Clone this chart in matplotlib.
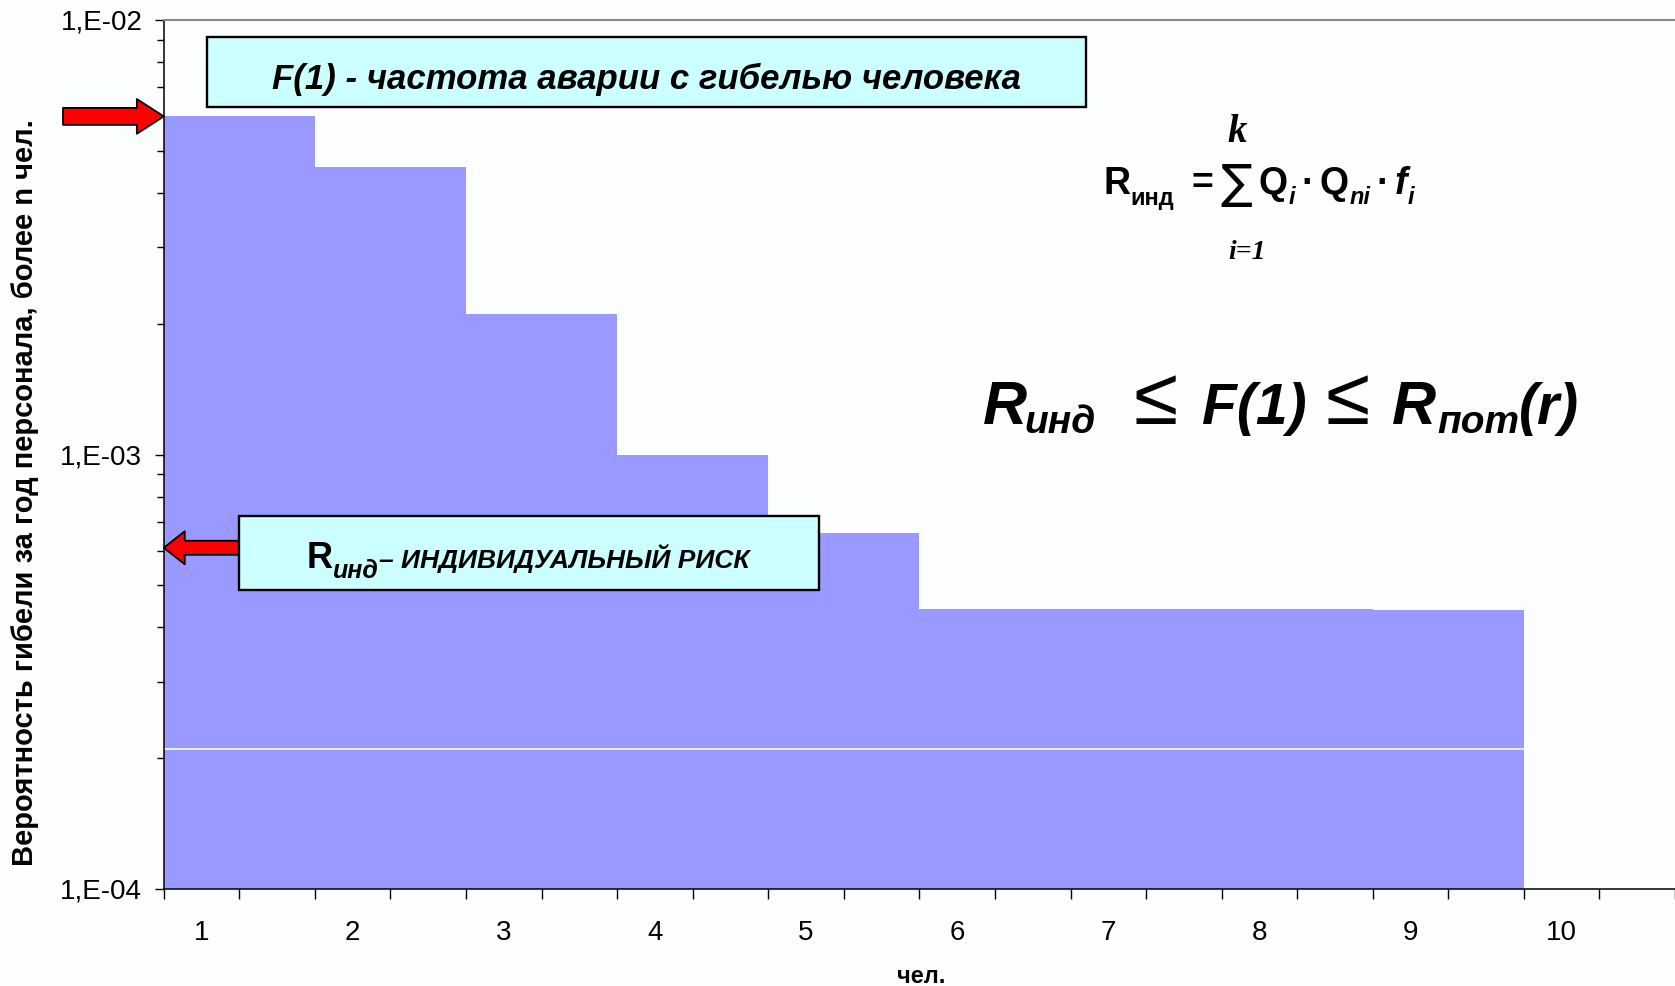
"""
Ступенчатая диаграмма F(N): вероятность гибели персонала за год (более n чел.)
с пояснениями к индивидуальному риску. Сохраняет out.png.
"""

import matplotlib

matplotlib.use("Agg")
import matplotlib.patches as mpatches
import matplotlib.pyplot as plt
import numpy as np
from matplotlib.transforms import Affine2D

# --- Данные ---
categories = ["1", "2", "3", "4", "5", "6", "7", "8", "9", "10"]
f_values = [6.0e-3, 4.6e-3, 2.1e-3, 1.0e-3, 6.6e-4, 4.42e-4, 4.42e-4, 4.42e-4, 4.38e-4]
lower_values = [2.1e-4, 2.1e-4, 2.1e-4, 2.1e-4, 2.1e-4, 2.1e-4, 2.1e-4, 2.1e-4, 2.1e-4]
r_ind = 6.1e-4
y_ticks = [1e-4, 1e-3, 1e-2]
y_tick_labels = ["1,E-04", "1,E-03", "1,E-02"]

W, H = 1675, 986
BAR_COLOR = "#9999FF"
BOX_COLOR = "#CCFFFF"
BG = "#fcfefe"

plt.rcParams["font.family"] = ["Liberation Sans", "DejaVu Sans"]


def draw_runs(fig, renderer, PX, x, y, items):
    """Текст кусками слева направо: (текст, свойства, сдвиг вниз, зазор перед)."""
    for s, kw, dy, gap in items:
        x += gap
        t = fig.text(x, y + dy, s, transform=PX, ha="left", va="baseline", **kw)
        x = t.get_window_extent(renderer).x1
    return x


def main():
    fig = plt.figure(figsize=(W / 100, H / 100), dpi=100, facecolor=BG)
    ax = fig.add_axes([163.8 / W, (H - 889) / H, 1 - 163.8 / W, (889 - 20) / H])
    ax.set_facecolor(BG)
    renderer = fig.canvas.get_renderer()

    # пиксели референса, начало координат сверху слева
    PX = Affine2D().scale(1 / W, -1 / H).translate(0, 1) + fig.transFigure

    # ступеньки F(N)
    edges = np.arange(len(f_values) + 1)
    ax.fill_between(edges, f_values + [f_values[-1]], 1e-5, step="post",
                    color=BAR_COLOR, linewidth=0)
    ax.step(edges, lower_values + [lower_values[-1]], where="post", color="white", lw=1.2)

    ax.set_yscale("log")
    ax.set_ylim(1e-4, 1e-2)
    ax.set_xlim(0, len(categories))
    ax.set_yticks(y_ticks)
    ax.set_yticklabels(y_tick_labels, fontsize=20)
    ax.tick_params(axis="y", which="major", length=6.5, width=1, pad=9, direction="out")
    ax.tick_params(axis="y", which="minor", length=5, width=1, direction="out")

    ax.set_xticks(np.arange(len(categories)) + 0.25)
    ax.set_xticklabels(categories, fontsize=20)
    ax.set_xticks(np.arange(0, len(categories) + 0.5, 0.5), minor=True)
    ax.tick_params(axis="x", which="major", length=0, pad=22)
    ax.tick_params(axis="x", which="minor", length=7, width=1, direction="out")

    ax.spines["right"].set_visible(False)
    ax.spines["top"].set_color("#888888")
    ax.spines["top"].set_linewidth(1.5)
    ax.spines["left"].set_linewidth(1.1)
    ax.spines["bottom"].set_linewidth(1.1)

    # подписи осей
    fig.text(25, 493, "Вероятность гибели за год персонала, более n чел.", transform=PX,
             rotation=90, ha="center", va="center", fontsize=21, fontweight="bold")
    fig.text(921, 983, "чел.", transform=PX, ha="center", va="baseline",
             fontsize=17, fontweight="bold")

    # стрелки
    ax.annotate("", xy=(0, f_values[0]), xycoords="data",
                xytext=(63, f_values[0]), textcoords=("figure pixels", "data"),
                annotation_clip=False,
                arrowprops=dict(arrowstyle="simple,head_length=19.4,head_width=25,tail_width=12.2",
                                mutation_scale=1, fc="red", ec="black", lw=1.3,
                                shrinkA=0, shrinkB=0))
    ax.annotate("", xy=(0, r_ind), xycoords="data",
                xytext=(250, r_ind), textcoords=("figure pixels", "data"),
                annotation_clip=False,
                arrowprops=dict(arrowstyle="simple,head_length=15.1,head_width=23.8,tail_width=10.1",
                                mutation_scale=1, fc="red", ec="black", lw=1.3,
                                shrinkA=0, shrinkB=0))

    # рамки с текстом
    fig.add_artist(mpatches.Rectangle((207, 37), 879, 70, transform=PX,
                                      fc=BOX_COLOR, ec="black", lw=1.7))
    fig.text(646.5, 89, "F(1) - частота аварии с гибелью человека", transform=PX,
             ha="center", va="baseline", fontsize=25, fontweight="bold", fontstyle="italic")

    fig.add_artist(mpatches.Rectangle((239, 516), 580, 74, transform=PX,
                                      fc=BOX_COLOR, ec="black", lw=1.7))
    bi = dict(fontweight="bold", fontstyle="italic")
    draw_runs(fig, renderer, PX, 306.5, 568, [
        ("R", dict(fontsize=26, fontweight="bold"), 0, 0),
        ("инд", dict(fontsize=18, **bi), 10, 0),
        ("– ИНДИВИДУАЛЬНЫЙ РИСК", dict(fontsize=19, **bi), 0, 1),
    ])

    # формула индивидуального риска
    fig.text(1237, 142, "k", transform=PX, ha="center", fontsize=28, fontweight="bold",
             fontstyle="italic", family="Liberation Serif")
    fig.text(1247, 259, "i=1", transform=PX, ha="center", fontsize=20, fontweight="bold",
             fontstyle="italic", family="Liberation Serif")
    b = dict(fontsize=27, fontweight="bold")
    sb = dict(fontsize=17, **bi)
    draw_runs(fig, renderer, PX, 1103, 194, [
        ("R", b, 0, 0),
        ("инд", dict(fontsize=17, fontweight="bold"), 11, 0),
        ("=", b, 0, 18),
        ("∑", dict(fontsize=34, family="DejaVu Sans"), 4, 7),
        ("Q", b, 0, 6),
        ("i", sb, 10, 1),
        ("·", b, 0, 6),
        ("Q", b, 0, 6),
        ("ni", sb, 10, 1),
        ("·", b, 0, 6),
        ("f", dict(fontsize=27, **bi), 0, 5),
        ("i", sb, 10, 1),
    ])

    # неравенство
    big = dict(transform=PX, fontweight="bold", fontstyle="italic")
    le = dict(transform=PX, fontsize=58, family="Liberation Sans")
    fig.text(983, 424, "R", fontsize=44, **big)
    fig.text(1024, 433, "инд", fontsize=28, **big)
    fig.text(1134, 424, "≤", **le)
    fig.text(1202, 424, "F(1)", fontsize=41, **big)
    fig.text(1326, 424, "≤", **le)
    fig.text(1392, 424, "R", fontsize=44, **big)
    fig.text(1437, 433, "пот", fontsize=28, **big)
    fig.text(1519, 424, "(r)", fontsize=41, **big)

    fig.savefig("out.png", dpi=100, facecolor=BG)


if __name__ == "__main__":
    main()
